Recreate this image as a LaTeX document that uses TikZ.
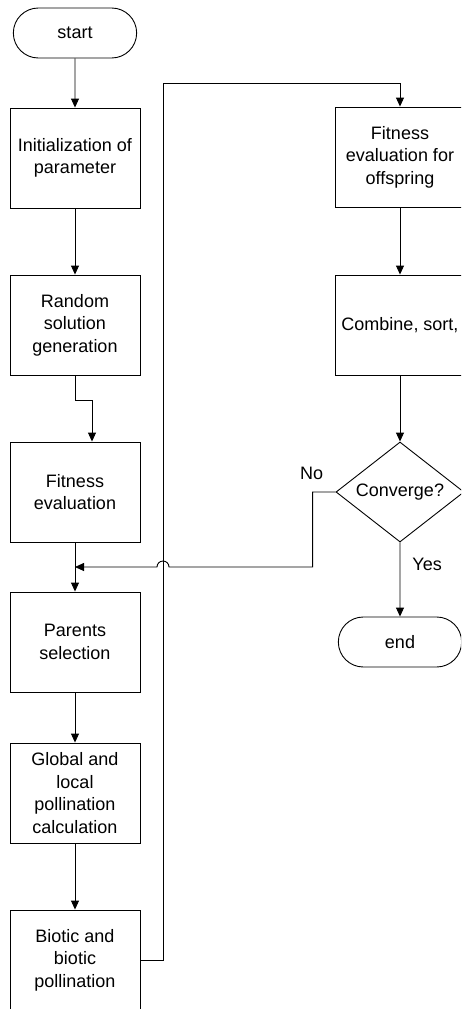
\documentclass[tikz,border=0pt]{standalone}
\usepackage{fontspec}
\setmainfont{Liberation Sans}
\usetikzlibrary{shapes,arrows.meta,positioning}

\begin{document}
\begin{tikzpicture}[x=1pt, y=1pt, line width=0.9pt,
	every node/.style={font=\fontsize{18}{22.5}\selectfont},
	box/.style={draw, minimum width=130pt, minimum height=100pt, align=center, inner sep=2pt},
	term/.style={draw, rounded rectangle, minimum width=130pt, minimum height=50pt},
	decision/.style={draw, diamond, aspect=1.3, minimum width=128pt, minimum height=100pt, inner sep=0pt},
	arr/.style={-{Triangle[length=9pt,width=8pt]}}]
	\useasboundingbox (0,0) rectangle (461,-1009);
	\clip (0,0) rectangle (461,-1009);
	
	% left column
	\node[term] (start) at (75,-33) {start};
	\node[box] (init) at (75,-158) {Initialization of\\parameter};
	\node[box] (random) at (75,-325) {Random\\solution\\generation};
	\node[box] (fitness) at (75,-492) {Fitness\\evaluation};
	\node[box] (parents) at (75,-642) {Parents\\selection};
	\node[box] (global) at (75,-793) {Global and\\local\\pollination\\calculation};
	\node[box] (biotic) at (75,-960) {Biotic and\\biotic\\pollination};
	
	% right column
	\node[box] (offspring) at (400,-157) {Fitness\\evaluation for\\offspring};
	\node[box] (combine) at (400,-325) {Combine, sort,};
	\node[decision] (converge) at (400,-492) {Converge?};
	\node[term] (finish) at (400,-642) {end};
	
	\coordinate (turn) at (163,-83);
	\coordinate (merge) at (75,-567);
	
	\draw[arr] (start) -- (init);
	\draw[arr] (init) -- (random);
	\draw[arr] (random.south) -- ++(0,-25) -| ([xshift=17pt]fitness.north);
	\draw[arr] (fitness) -- (parents);
	\draw[arr] (parents) -- (global);
	\draw[arr] (global) -- (biotic);
	\draw[arr] (biotic.east) -| (turn) -| (offspring.north);
	\draw[arr] (offspring) -- (combine);
	\draw[arr] (combine) -- (converge);
	\draw[arr] (converge) -- (finish) node[pos=0.3, right=12pt, inner sep=0pt] (yes) {Yes};
	\draw[arr] (converge.west) node[above left=12pt and 12pt, inner sep=0pt] (no) {No}
		-- ++(-23,0) |- (169,-567) arc[start angle=0, end angle=180, radius=6pt] -- (merge);
\end{tikzpicture}
\end{document}
